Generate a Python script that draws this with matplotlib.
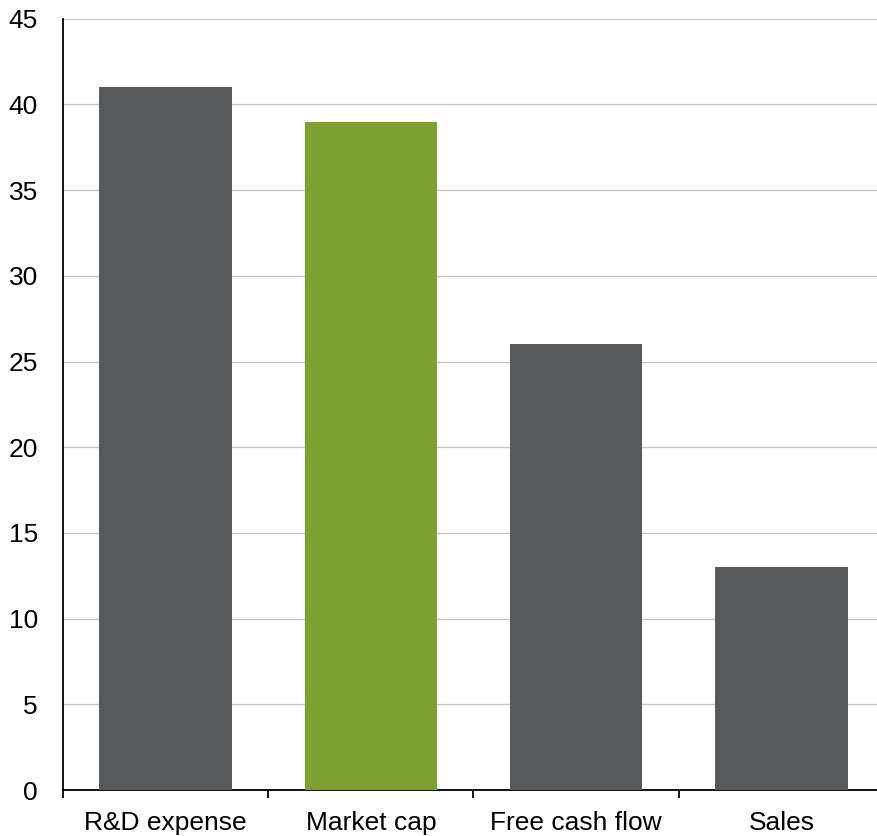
import matplotlib
matplotlib.use("Agg")
import matplotlib.pyplot as plt
import numpy as np

categories = ['R&D expense', 'Market cap', 'Free cash flow', 'Sales']
values = [41, 39, 26, 13]
bar_colors = ['#575a5d', '#7ca130', '#575a5d', '#575a5d']

plt.rcParams['font.family'] = ['Liberation Sans', 'DejaVu Sans']

W, H = 877, 836
fig = plt.figure(figsize=(W / 100, H / 100), dpi=100)
# axes spans 63..884 px horizontally (right edge runs past the image), 18.7..790 px vertically
ax = fig.add_axes([63 / W, (H - 790) / H, (884 - 63) / W, (790 - 18.7) / H])

x = np.arange(len(categories))
ax.bar(x, values, width=0.645, color=bar_colors, zorder=3)

ax.set_xlim(-0.5, len(categories) - 0.5)
ax.set_ylim(0, 45)
ax.set_yticks(np.arange(0, 50, 5))
ax.grid(axis='y', color='#c8c8c8', linewidth=1.0, zorder=0)

# category labels on minor ticks, boundary marks on major ticks
ax.set_xticks(np.arange(-0.5, len(categories), 1.0))
ax.set_xticklabels([])
ax.set_xticks(x, minor=True)
ax.set_xticklabels(categories, minor=True)
ax.tick_params(axis='x', which='major', direction='out', length=5.5, width=1.3, color='black')
ax.tick_params(axis='x', which='minor', length=0, pad=15, labelsize=19)
ax.tick_params(axis='y', length=0, pad=18, labelsize=19)

for s in ['top', 'right']:
    ax.spines[s].set_visible(False)
ax.spines['left'].set_linewidth(1.3)
ax.spines['bottom'].set_linewidth(1.3)

fig.savefig('out.png', dpi=100)
